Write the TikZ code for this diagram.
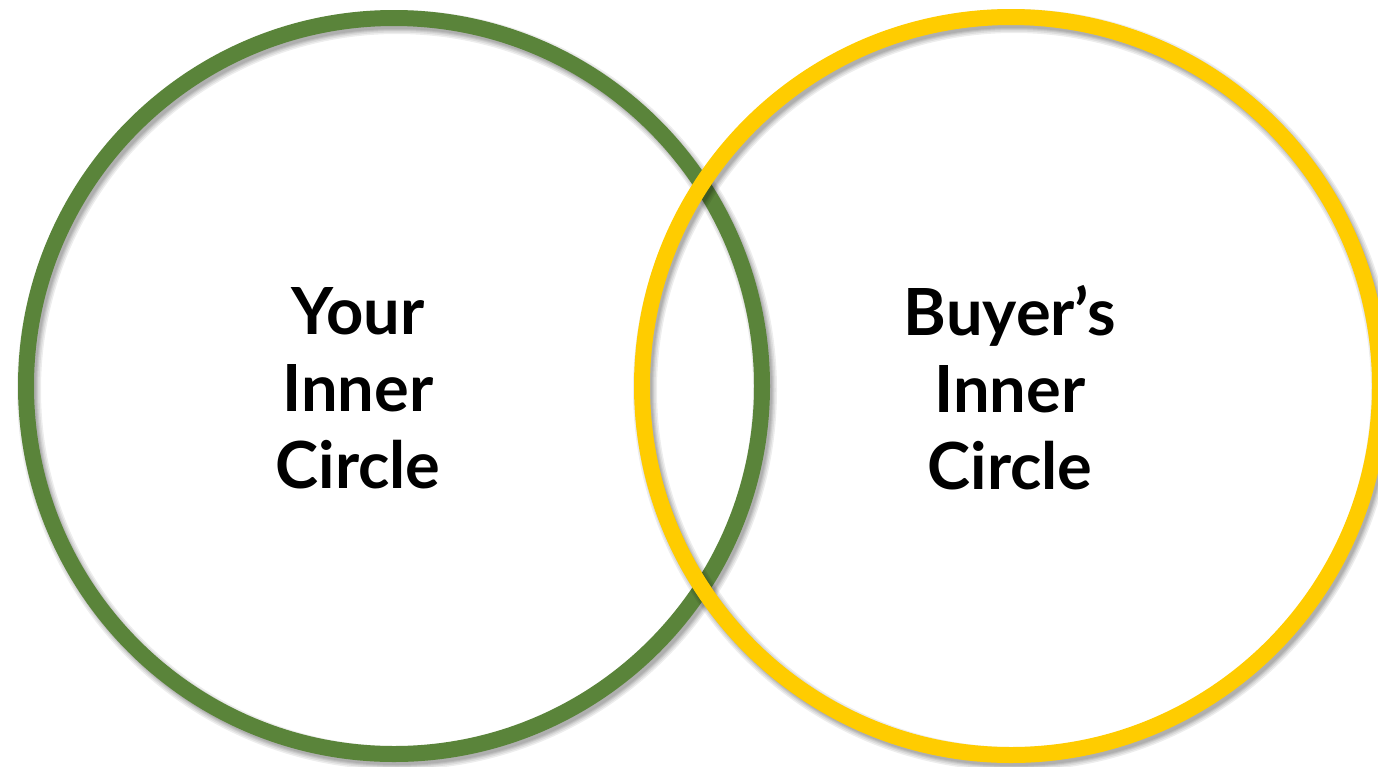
\documentclass[tikz,border=0pt]{standalone}
\usepackage{fontspec}
\setmainfont{Lato}
\definecolor{ringgreen}{HTML}{5A843A}
\definecolor{ringyellow}{HTML}{FFCC00}
\begin{document}
\begin{tikzpicture}[x=1pt,y=-1pt,
  ring/.style={line width=16pt},
  ringshadow/.style={line width=#1, draw=black, draw opacity=0.07},
  label/.style={font=\fontsize{65}{77}\selectfont\bfseries, align=center, text=black, inner sep=0pt}]
\useasboundingbox (0,0) rectangle (1378,766);
\clip (0,0) rectangle (1378,766);
\fill[white] (0,0) rectangle (1378,766);
% green ring
\coordinate (gc) at (394,386);
\coordinate (gs) at (397,390);
\foreach \w in {24pt,21pt,18pt,16pt,14pt}{\draw[ringshadow=\w] (gs) circle[radius=368];}
\draw[ring, ringgreen] (gc) circle[radius=368];
% yellow ring
\coordinate (yc) at (1011,386);
\coordinate (ys) at (1014,390);
\foreach \w in {24pt,21pt,18pt,16pt,14pt}{\draw[ringshadow=\w] (ys) circle[radius=369];}
\draw[ring, ringyellow] (yc) circle[radius=369];
% labels
\node[label] (lyour) at (358,388) {Your\\Inner\\Circle};
\node[label] (lbuyer) at (1010,388) {Buyer’s\\Inner\\Circle};
\end{tikzpicture}
\end{document}
